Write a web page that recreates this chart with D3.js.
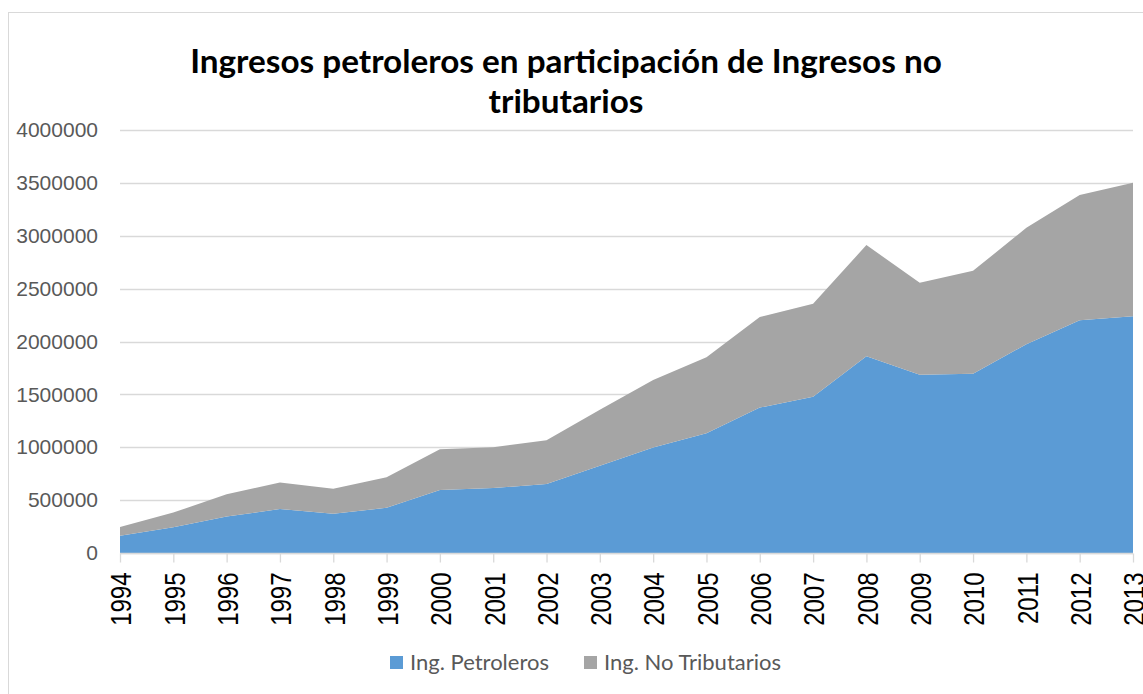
<!DOCTYPE html>
<html>
<head>
<meta charset="utf-8">
<script src="https://cdn.jsdelivr.net/npm/d3@7"></script>
<style>
  body { margin: 0; background: #fff; }
  svg { display: block; }
</style>
</head>
<body>
<svg></svg>
<script>
const years = ["1994", "1995", "1996", "1997", "1998", "1999", "2000", "2001", "2002", "2003",
               "2004", "2005", "2006", "2007", "2008", "2009", "2010", "2011", "2012", "2013"]

// Ing. Petroleros
const petroleros = [162000, 244000, 346000, 415000, 372000, 427000, 595000, 614000, 652000, 825000,
                    997000, 1132000, 1375000, 1478000, 1860000, 1685000, 1695000, 1975000, 2200000, 2238000]

// Ing. No Tributarios (stacked above petroleros)
const noTributarios = [84000, 138000, 210000, 252000, 236000, 290000, 387000, 386000, 414000, 530000,
                       638000, 718000, 857000, 879000, 1052000, 871000, 973000, 1100000, 1185000, 1264000]

const yTicks = [0, 500000, 1000000, 1500000, 2000000, 2500000, 3000000, 3500000, 4000000]

const seriesNames = ["Ing. Petroleros", "Ing. No Tributarios"]
const colors = ["#5B9BD5", "#A5A5A5"]

const width = 1143, height = 694
const margin = {top: 130, right: 10, bottom: 141, left: 120}

const svg = d3.select("svg")
    .attr("width", width)
    .attr("height", height)

// chart frame
svg.append("rect")
    .attr("x", 8.5).attr("y", 12.5)
    .attr("width", width).attr("height", height)
    .attr("fill", "none")
    .attr("stroke", "#D9D9D9")

const rows = years.map((y, i) => ({year: y, pet: petroleros[i], noTrib: noTributarios[i]}))

const x = d3.scalePoint()
    .domain(years)
    .range([margin.left, width - margin.right])

const y = d3.scaleLinear()
    .domain([0, 4000000])
    .range([height - margin.bottom, margin.top])

// gridlines
svg.append("g")
  .selectAll("line")
  .data(yTicks)
  .join("line")
    .attr("x1", margin.left)
    .attr("x2", width - margin.right)
    .attr("y1", d => Math.round(y(d)) + 0.5)
    .attr("y2", d => Math.round(y(d)) + 0.5)
    .attr("stroke", "#D9D9D9")
    .attr("stroke-width", 1.3)

const stack = d3.stack().keys(["pet", "noTrib"])
const layers = stack(rows)

const area = d3.area()
    .x(d => x(d.data.year))
    .y0(d => y(d[0]))
    .y1(d => y(d[1]))

svg.append("g")
  .selectAll("path")
  .data(layers)
  .join("path")
    .attr("d", area)
    .attr("fill", (d, i) => colors[i])

// y axis labels
const yAxis = d3.axisLeft(y)
    .tickValues(yTicks)
    .tickFormat(d3.format("d"))
    .tickSize(0)
    .tickPadding(22)

const yg = svg.append("g")
    .attr("transform", `translate(${margin.left},0)`)
    .call(yAxis)
yg.select(".domain").remove()
yg.selectAll("text")
    .attr("fill", "#595959")
    .style("font-family", "'Liberation Sans', Arial, sans-serif")
    .style("font-size", "21px")

// x axis
const xAxis = d3.axisBottom(x)
    .tickSize(9)
    .tickPadding(10)

const xg = svg.append("g")
    .attr("transform", `translate(0,${Math.round(y(0)) + 0.5})`)
    .call(xAxis)
xg.select(".domain")
    .attr("stroke", "#D9D9D9")
    .attr("stroke-width", 1.3)
    .attr("d", `M${margin.left},0H${width - margin.right}`)
xg.selectAll(".tick line")
    .attr("stroke", "#D9D9D9")
    .attr("stroke-width", 1.3)
xg.selectAll("text")
    .attr("fill", "#000")
    .attr("transform", "rotate(-90) scale(1,1.25)")
    .attr("text-anchor", "end")
    .attr("x", -19)
    .attr("y", 0)
    .attr("dy", "0.36em")
    .style("font-family", "'Liberation Sans', Arial, sans-serif")
    .style("font-size", "24px")

// title
const titleLines = ["Ingresos petroleros en participación de Ingresos no", "tributarios"]
const title = svg.append("g")
    .selectAll("text")
    .data(titleLines)
    .join("text")
      .attr("x", 566)
      .attr("y", (d, i) => 73 + i * 40)
      .attr("text-anchor", "middle")
      .attr("font-weight", "bold")
      .attr("fill", "#000")
      .style("font-family", "Lato, 'Open Sans', sans-serif")
      .style("font-size", "32px")
      .text(d => d)

const firstW = title.node().getComputedTextLength()
title.style("font-size", (32 * 752 / firstW) + "px")

// legend
const legendX = [390, 584]
const legend = svg.append("g")
  .selectAll("g")
  .data(seriesNames)
  .join("g")
    .attr("transform", (d, i) => `translate(${legendX[i]},656)`)

legend.append("rect")
    .attr("width", 13)
    .attr("height", 13)
    .attr("fill", (d, i) => colors[i])

legend.append("text")
    .attr("x", 20)
    .attr("y", 14)
    .attr("fill", "#595959")
    .style("font-family", "Lato, 'Open Sans', sans-serif")
    .style("font-size", "22px")
    .text(d => d)
</script>
</body>
</html>
